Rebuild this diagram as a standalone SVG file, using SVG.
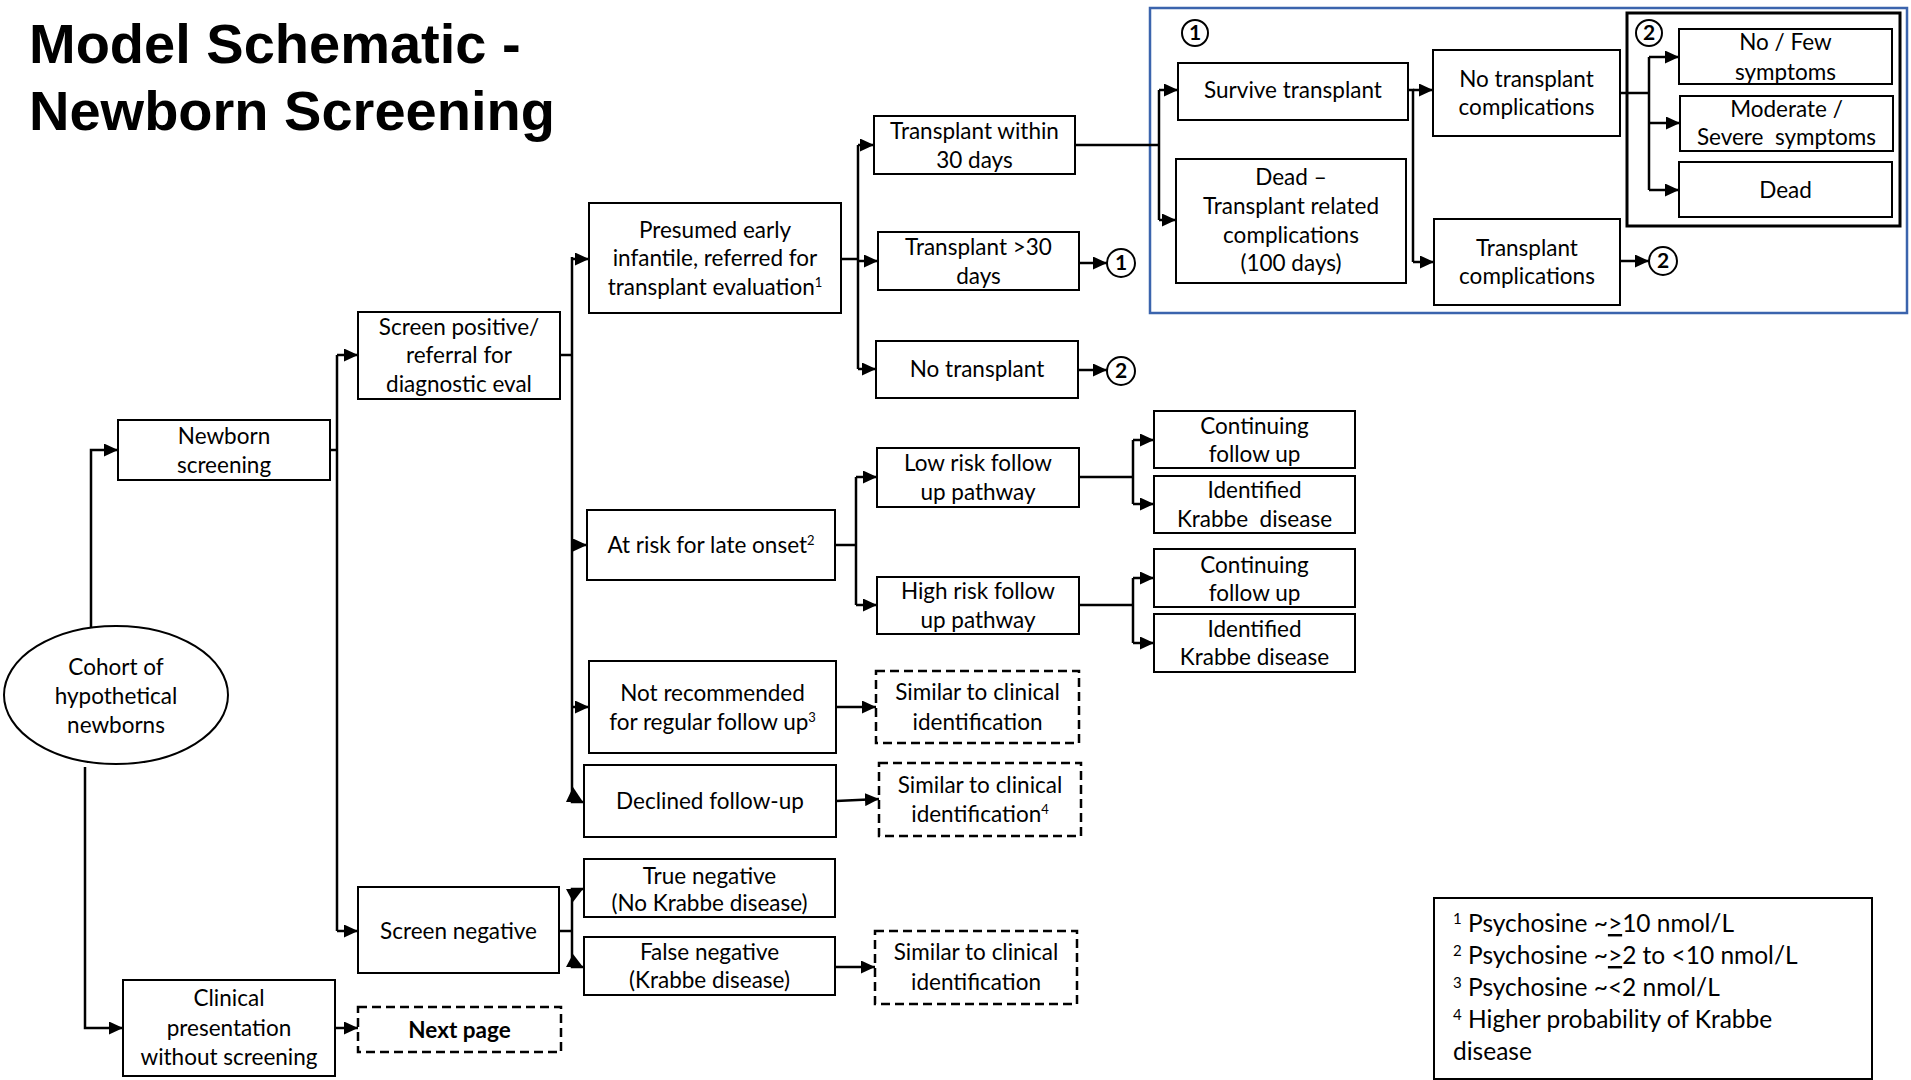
<svg xmlns="http://www.w3.org/2000/svg" width="1911" height="1080" viewBox="0 0 1911 1080">
<defs>
<style>
.box{fill:#fff;stroke:#000;stroke-width:2}
.dash{stroke-dasharray:9 5;stroke-width:2.5}
.c{fill:none;stroke:#000;stroke-width:2.5}
.t{font-family:Lato,"Open Sans","Liberation Sans",sans-serif;font-size:22.5px;text-anchor:middle;fill:#000}
.lg{font-family:Lato,"Open Sans","Liberation Sans",sans-serif;font-size:24.5px;fill:#000}
.title{font-family:"Liberation Sans",Arial,sans-serif;font-size:56px;font-weight:bold;fill:#000}
.num{font-family:Lato,"Liberation Sans",sans-serif;font-size:21px;font-weight:bold;text-anchor:middle;fill:#000}
.circ{fill:#fff;stroke:#000;stroke-width:2}
.pre{white-space:pre}
</style>
<marker id="ah" viewBox="0 0 14 13" refX="14" refY="6.5" markerWidth="14" markerHeight="13" markerUnits="userSpaceOnUse" orient="auto"><path d="M0,0 L14,6.5 L0,13 z" fill="#000"/></marker>
</defs>
<rect width="1911" height="1080" fill="#fff"/>

<g id="title">
<text class="title" x="29" y="63">Model Schematic -</text>
<text class="title" x="29" y="130">Newborn Screening</text>
</g>

<g id="tx-group-frame">
<rect x="1150" y="8" width="757" height="305" fill="none" stroke="#3B64AD" stroke-width="2.5"/>
<circle class="circ" cx="1195" cy="33" r="13"/><text class="num" x="1195" y="40">1</text>
</g>
<g id="outcome-frame">
<rect x="1627" y="13" width="273" height="213" fill="none" stroke="#000" stroke-width="3"/>
<circle class="circ" cx="1649" cy="33" r="13"/><text class="num" x="1649" y="40">2</text>
</g>

<g id="connectors">
<path class="c" d="M91,627 V450 H118" marker-end="url(#ah)"/>
<path class="c" d="M85,767 V1028 H123" marker-end="url(#ah)"/>
<path class="c" d="M330,450 H337"/>
<path class="c" d="M337,355 V931"/>
<path class="c" d="M337,355 H358" marker-end="url(#ah)"/>
<path class="c" d="M337,931 H358" marker-end="url(#ah)"/>
<path class="c" d="M335,1028 H358" marker-end="url(#ah)"/>
<path class="c" d="M560,355 H572"/>
<path class="c" d="M572,257 V802 H584"/>
<path class="c" d="M572,259 H589" marker-end="url(#ah)"/>
<path class="c" d="M572,545 H587" marker-end="url(#ah)"/>
<path class="c" d="M572,707 H589" marker-end="url(#ah)"/>
<polygon points="566,802 583,802 573,787" fill="#000"/>
<path class="c" d="M559,931 H572"/>
<path class="c" d="M584,889 H572 V967 H584"/>
<polygon points="566,889 583,889 573,902" fill="#000"/>
<polygon points="566,967 583,967 573,954" fill="#000"/>
<path class="c" d="M841,259 H858"/>
<path class="c" d="M858,145 V369"/>
<path class="c" d="M858,145 H874" marker-end="url(#ah)"/>
<path class="c" d="M858,261 H878" marker-end="url(#ah)"/>
<path class="c" d="M858,369 H876" marker-end="url(#ah)"/>
<path class="c" d="M1079,263 H1107" marker-end="url(#ah)"/>
<path class="c" d="M1078,370 H1107" marker-end="url(#ah)"/>
<path class="c" d="M1075,145 H1159"/>
<path class="c" d="M1159,90 V220"/>
<path class="c" d="M1159,90 H1178" marker-end="url(#ah)"/>
<path class="c" d="M1159,220 H1176" marker-end="url(#ah)"/>
<path class="c" d="M1408,90 H1413 V262"/>
<path class="c" d="M1413,90 H1433" marker-end="url(#ah)"/>
<path class="c" d="M1413,262 H1434" marker-end="url(#ah)"/>
<path class="c" d="M1620,93 H1649"/>
<path class="c" d="M1649,57 V190"/>
<path class="c" d="M1649,57 H1679" marker-end="url(#ah)"/>
<path class="c" d="M1649,123 H1680" marker-end="url(#ah)"/>
<path class="c" d="M1649,190 H1679" marker-end="url(#ah)"/>
<path class="c" d="M1620,261 H1649" marker-end="url(#ah)"/>
<path class="c" d="M835,545 H856"/>
<path class="c" d="M856,477 V605"/>
<path class="c" d="M856,477 H877" marker-end="url(#ah)"/>
<path class="c" d="M856,605 H877" marker-end="url(#ah)"/>
<path class="c" d="M1079,477 H1133"/>
<path class="c" d="M1133,440 V504"/>
<path class="c" d="M1133,440 H1154" marker-end="url(#ah)"/>
<path class="c" d="M1133,504 H1154" marker-end="url(#ah)"/>
<path class="c" d="M1079,605 H1133"/>
<path class="c" d="M1133,578 V643"/>
<path class="c" d="M1133,578 H1154" marker-end="url(#ah)"/>
<path class="c" d="M1133,643 H1154" marker-end="url(#ah)"/>
<path class="c" d="M836,707 H876" marker-end="url(#ah)"/>
<path class="c" d="M836,801 L879,799" marker-end="url(#ah)"/>
<path class="c" d="M835,967 H875" marker-end="url(#ah)"/>
</g>

<g id="ref1a"><circle class="circ" cx="1121" cy="263" r="14"/><text class="num" x="1121" y="270">1</text></g>
<g id="ref2a"><circle class="circ" cx="1121" cy="371" r="14"/><text class="num" x="1121" y="378">2</text></g>
<g id="ref2b"><circle class="circ" cx="1663" cy="261" r="14"/><text class="num" x="1663" y="268">2</text></g>

<g id="cohort"><ellipse cx="116" cy="695" rx="112" ry="69" fill="#fff" stroke="#000" stroke-width="2"/>
<text class="t"><tspan x="116" y="675">Cohort of</tspan><tspan x="116" y="704">hypothetical</tspan><tspan x="116" y="733">newborns</tspan></text></g>

<g id="newborn"><rect class="box" x="118" y="420" width="212" height="60"/>
<text class="t"><tspan x="224" y="444">Newborn</tspan><tspan x="224" y="473">screening</tspan></text></g>

<g id="clinical"><rect class="box" x="123" y="980" width="212" height="96"/>
<text class="t"><tspan x="229" y="1006">Clinical</tspan><tspan x="229" y="1036">presentation</tspan><tspan x="229" y="1065">without screening</tspan></text></g>

<g id="screen-positive"><rect class="box" x="358" y="312" width="202" height="87"/>
<text class="t"><tspan x="459" y="335">Screen positive/</tspan><tspan x="459" y="363">referral for</tspan><tspan x="459" y="392">diagnostic eval</tspan></text></g>

<g id="screen-negative"><rect class="box" x="358" y="887" width="201" height="86"/>
<text class="t" x="458.5" y="939">Screen negative</text></g>

<g id="next-page"><rect class="box dash" x="358" y="1007" width="203" height="45"/>
<text class="t" x="459.5" y="1038" font-weight="bold">Next page</text></g>

<g id="presumed"><rect class="box" x="589" y="203" width="252" height="110"/>
<text class="t"><tspan x="715" y="238">Presumed early</tspan><tspan x="715" y="266">infantile, referred for</tspan><tspan x="715" y="295">transplant evaluation<tspan dy="-8" font-size="13">1</tspan></tspan></text></g>

<g id="at-risk"><rect class="box" x="587" y="510" width="248" height="70"/>
<text class="t" x="711" y="553">At risk for late onset<tspan dy="-8" font-size="13">2</tspan></text></g>

<g id="not-recommended"><rect class="box" x="589" y="661" width="247" height="92"/>
<text class="t"><tspan x="712.5" y="701">Not recommended</tspan><tspan x="712.5" y="730">for regular follow up<tspan dy="-8" font-size="13">3</tspan></tspan></text></g>

<g id="declined"><rect class="box" x="584" y="765" width="252" height="72"/>
<text class="t" x="710" y="809">Declined follow-up</text></g>

<g id="true-negative"><rect class="box" x="584" y="859" width="251" height="58"/>
<text class="t"><tspan x="709.5" y="884">True negative</tspan><tspan x="709.5" y="911">(No Krabbe disease)</tspan></text></g>

<g id="false-negative"><rect class="box" x="584" y="937" width="251" height="58"/>
<text class="t"><tspan x="709.5" y="960">False negative</tspan><tspan x="709.5" y="988">(Krabbe disease)</tspan></text></g>

<g id="tx-within-30"><rect class="box" x="874" y="116" width="201" height="58"/>
<text class="t"><tspan x="974.5" y="139">Transplant within</tspan><tspan x="974.5" y="168">30 days</tspan></text></g>

<g id="tx-over-30"><rect class="box" x="878" y="232" width="201" height="58"/>
<text class="t"><tspan x="978.5" y="255">Transplant &gt;30</tspan><tspan x="978.5" y="284">days</tspan></text></g>

<g id="no-transplant"><rect class="box" x="876" y="341" width="202" height="57"/>
<text class="t" x="977" y="377">No transplant</text></g>

<g id="low-risk"><rect class="box" x="877" y="448" width="202" height="59"/>
<text class="t"><tspan x="978" y="471">Low risk follow</tspan><tspan x="978" y="500">up pathway</tspan></text></g>

<g id="high-risk"><rect class="box" x="877" y="577" width="202" height="57"/>
<text class="t"><tspan x="978" y="599">High risk follow</tspan><tspan x="978" y="628">up pathway</tspan></text></g>

<g id="similar-1"><rect class="box dash" x="876" y="671" width="203" height="72"/>
<text class="t"><tspan x="977.5" y="700">Similar to clinical</tspan><tspan x="977.5" y="730">identification</tspan></text></g>

<g id="similar-2"><rect class="box dash" x="879" y="763" width="202" height="73"/>
<text class="t"><tspan x="980" y="793">Similar to clinical</tspan><tspan x="980" y="822">identification<tspan dy="-8" font-size="13">4</tspan></tspan></text></g>

<g id="similar-3"><rect class="box dash" x="875" y="931" width="202" height="73"/>
<text class="t"><tspan x="976" y="960">Similar to clinical</tspan><tspan x="976" y="990">identification</tspan></text></g>

<g id="continuing-1"><rect class="box" x="1154" y="411" width="201" height="57"/>
<text class="t"><tspan x="1254.5" y="434">Continuing</tspan><tspan x="1254.5" y="462">follow up</tspan></text></g>

<g id="identified-1"><rect class="box" x="1154" y="476" width="201" height="57"/>
<text class="t"><tspan x="1254.5" y="498">Identified</tspan><tspan x="1254.5" y="527" class="pre" xml:space="preserve">Krabbe  disease</tspan></text></g>

<g id="continuing-2"><rect class="box" x="1154" y="549" width="201" height="58"/>
<text class="t"><tspan x="1254.5" y="573">Continuing</tspan><tspan x="1254.5" y="601">follow up</tspan></text></g>

<g id="identified-2"><rect class="box" x="1154" y="614" width="201" height="58"/>
<text class="t"><tspan x="1254.5" y="637">Identified</tspan><tspan x="1254.5" y="665">Krabbe disease</tspan></text></g>

<g id="survive"><rect class="box" x="1178" y="63" width="230" height="57"/>
<text class="t" x="1293" y="98">Survive transplant</text></g>

<g id="dead-transplant"><rect class="box" x="1176" y="159" width="230" height="124"/>
<text class="t"><tspan x="1291" y="185">Dead –</tspan><tspan x="1291" y="214">Transplant related</tspan><tspan x="1291" y="243">complications</tspan><tspan x="1291" y="271">(100 days)</tspan></text></g>

<g id="no-tx-complications"><rect class="box" x="1433" y="50" width="187" height="86"/>
<text class="t"><tspan x="1526.5" y="87">No transplant</tspan><tspan x="1526.5" y="115">complications</tspan></text></g>

<g id="tx-complications"><rect class="box" x="1434" y="219" width="186" height="86"/>
<text class="t"><tspan x="1527" y="256">Transplant</tspan><tspan x="1527" y="284">complications</tspan></text></g>

<g id="no-few"><rect class="box" x="1679" y="29" width="213" height="55"/>
<text class="t"><tspan x="1785.5" y="50">No / Few</tspan><tspan x="1785.5" y="80">symptoms</tspan></text></g>

<g id="moderate"><rect class="box" x="1680" y="96" width="213" height="55"/>
<text class="t"><tspan x="1786.5" y="117">Moderate /</tspan><tspan x="1786.5" y="145" class="pre" xml:space="preserve">Severe  symptoms</tspan></text></g>

<g id="dead"><rect class="box" x="1679" y="162" width="213" height="55"/>
<text class="t" x="1785.5" y="198">Dead</text></g>

<g id="legend"><rect class="box" x="1434" y="898" width="438" height="181"/>
<text class="lg" x="1453" y="932"><tspan dy="-8" font-size="15">1</tspan><tspan dy="8"> Psychosine ~</tspan><tspan text-decoration="underline">&gt;</tspan>10 nmol/L</text>
<text class="lg" x="1453" y="964"><tspan dy="-8" font-size="15">2</tspan><tspan dy="8"> Psychosine ~</tspan><tspan text-decoration="underline">&gt;</tspan>2 to &lt;10 nmol/L</text>
<text class="lg" x="1453" y="996"><tspan dy="-8" font-size="15">3</tspan><tspan dy="8"> Psychosine ~&lt;2 nmol/L</tspan></text>
<text class="lg" x="1453" y="1028"><tspan dy="-8" font-size="15">4</tspan><tspan dy="8"> Higher probability of Krabbe</tspan></text>
<text class="lg" x="1453" y="1060">disease</text>
</g>
</svg>
